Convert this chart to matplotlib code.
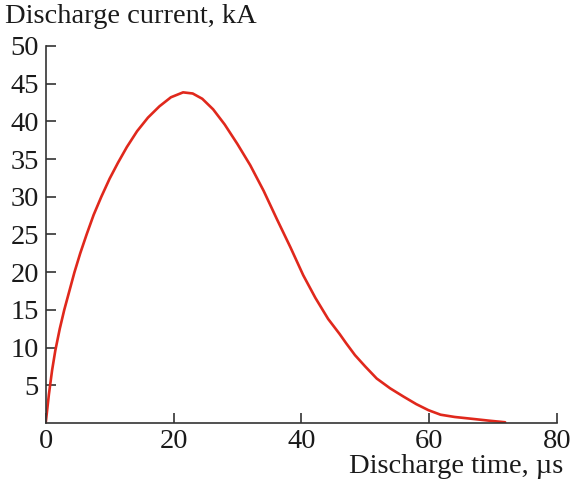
import matplotlib
matplotlib.use("Agg")
import matplotlib.pyplot as plt

# Discharge current waveform
time_us = [0.0, 0.5, 1.0, 1.5, 2.2, 2.9, 3.7, 4.5, 5.4, 6.4, 7.5, 8.7, 10.0,
           11.3, 12.7, 14.3, 16.0, 17.8, 19.6, 21.5, 23.0, 24.5, 26.2, 28.0,
           30.0, 32.0, 34.1, 36.2, 38.3, 40.3, 42.2, 44.2, 46.0, 47.0, 48.4,
           50.0, 51.8, 53.9, 56.0, 58.0, 59.9, 61.8, 64.0, 67.0, 69.5, 71.9]
current_kA = [0.0, 3.8, 7.0, 9.6, 12.5, 15.0, 17.5, 20.0, 22.5, 25.0, 27.6,
              30.0, 32.4, 34.5, 36.6, 38.7, 40.5, 42.0, 43.2, 43.85, 43.7,
              43.0, 41.6, 39.6, 37.0, 34.2, 30.8, 27.0, 23.3, 19.6, 16.6, 13.8,
              11.8, 10.6, 9.0, 7.5, 5.9, 4.6, 3.5, 2.5, 1.7, 1.1, 0.8, 0.53,
              0.3, 0.1]

x_ticks = [0, 20, 40, 60, 80]
y_ticks = [5, 10, 15, 20, 25, 30, 35, 40, 45, 50]

plt.rcParams["font.family"] = ["Liberation Serif", "DejaVu Serif"]

fig = plt.figure(figsize=(5.75, 4.82), dpi=100)
ax = fig.add_axes([0.0795, 0.1224, 0.889, 0.7822])

ax.plot(time_us, current_kA, color="#e0281c", lw=1.9,
        solid_capstyle="round", solid_joinstyle="round")

ax.set_xlim(0, 80)
ax.set_ylim(0, 50)
ax.set_xticks(x_ticks)
ax.set_yticks(y_ticks)
ax.tick_params(direction="in", length=7, width=1.2, color="#333333",
               labelsize=20.5, labelcolor="#1a1a1a", pad=5)
ax.tick_params(axis="x", pad=4)

for side in ("top", "right"):
    ax.spines[side].set_visible(False)
for side in ("left", "bottom"):
    ax.spines[side].set_color("#333333")
    ax.spines[side].set_linewidth(1.2)

fig.text(0.008, 0.966, "Discharge current, kA", fontsize=20.5, color="#1a1a1a",
         ha="left", va="center")
fig.text(0.979, 0.006, "Discharge time, µs", fontsize=20.5, color="#1a1a1a",
         ha="right", va="bottom")

fig.savefig("out.png", dpi=100)
